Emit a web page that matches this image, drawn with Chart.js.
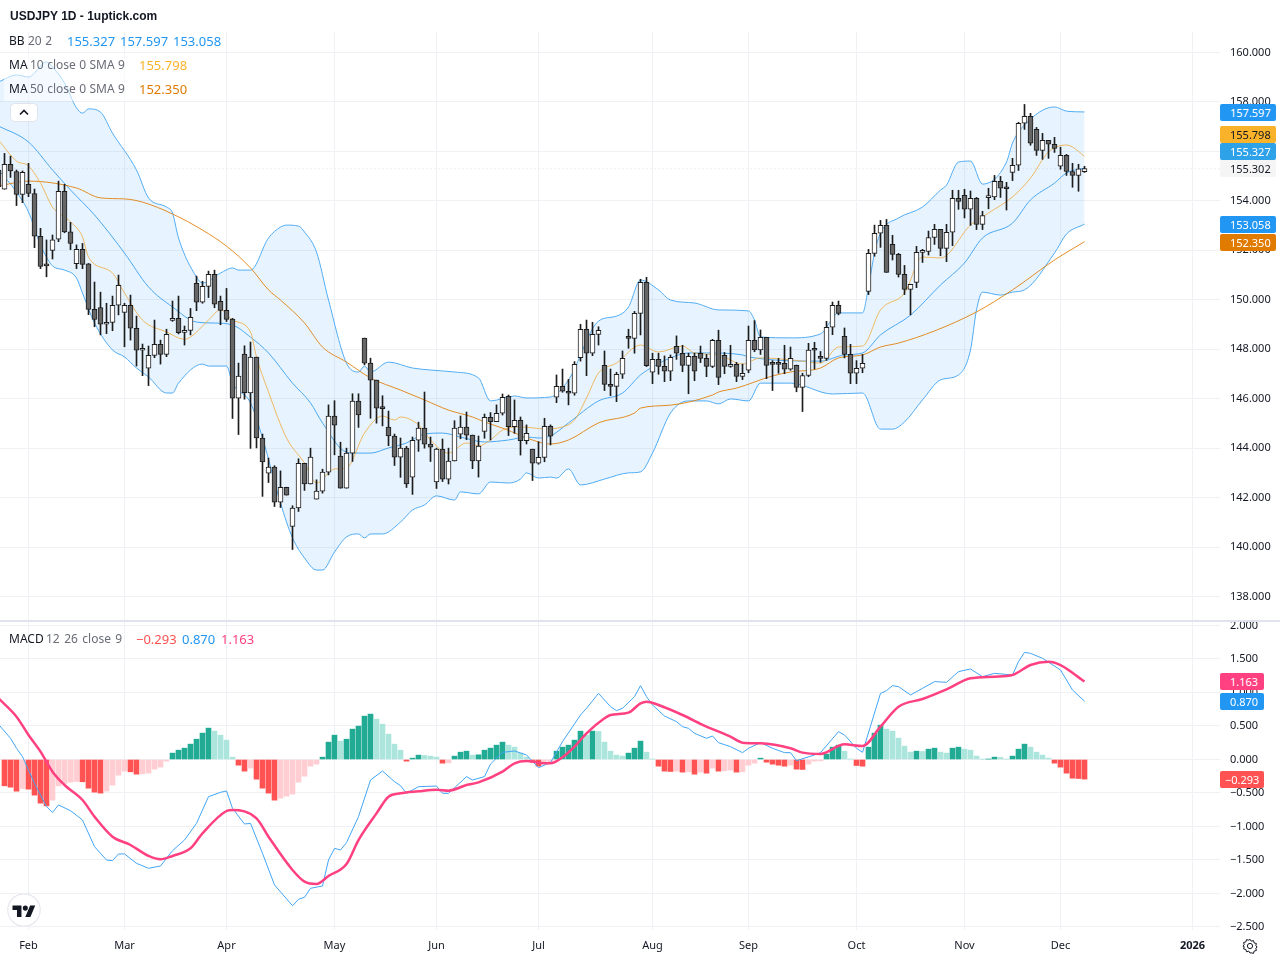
<!DOCTYPE html>
<html><head><meta charset="utf-8">
<script src="https://cdn.jsdelivr.net/npm/chart.js@4"></script>
<style>
html,body{margin:0;padding:0;background:#fff;width:1280px;height:960px;overflow:hidden}
body{position:relative;font-family:"Noto Sans",sans-serif;font-size:12px;color:#131722}
canvas{position:absolute;left:0}
.t{position:absolute;white-space:nowrap;line-height:16px}
.row{position:absolute;left:4px;width:190px;height:24px;background:rgba(255,255,255,.55)}
.tag{position:absolute;left:1220px;height:17px;line-height:17px;text-align:left;padding-left:10px;box-sizing:border-box;border-radius:2px;color:#fff;font-size:11px}
</style></head><body>
<canvas id="top" width="1280" height="622" style="top:0"></canvas>
<canvas id="bot" width="1280" height="338" style="top:622px"></canvas>
<div id="overlay"></div>
<script>
const firstIndex=-1;
const opens=[155.25,154.47,155.48,155.19,154.26,154.67,154.30,152.57,151.39,152.00,152.45,154.39,152.75,151.46,152.04,151.45,149.61,149.69,149.01,149.09,149.78,149.49,149.78,148.85,147.96,147.23,147.75,148.20,147.79,149.17,149.25,148.68,148.76,150.67,149.90,150.54,151.03,149.94,149.57,149.22,146.02,147.80,146.23,147.68,144.41,142.99,143.23,141.82,142.42,140.83,141.58,143.39,142.55,141.94,142.26,143.03,145.30,143.68,142.38,143.80,145.90,148.45,147.44,146.75,145.62,144.85,144.49,143.64,144.00,142.83,144.32,144.81,144.16,142.63,143.96,142.75,143.48,144.57,144.85,144.53,143.48,144.68,145.25,145.07,145.41,146.10,144.87,145.13,144.30,143.96,143.39,143.63,144.88,146.06,146.50,146.30,146.22,147.66,148.81,147.84,148.60,147.35,146.58,146.50,146.99,148.48,148.44,149.45,150.71,147.07,147.59,147.31,147.11,148.12,147.84,147.35,147.71,147.84,147.63,147.31,148.36,147.75,147.31,147.39,146.90,147.15,148.36,147.97,148.48,147.43,147.43,147.43,147.19,147.35,146.46,146.94,147.97,147.71,147.63,148.89,149.78,148.52,147.79,147.03,147.23,150.34,151.88,152.69,153.01,152.24,151.84,151.03,150.42,150.70,151.92,151.96,152.52,152.85,152.08,152.73,154.10,154.22,153.66,154.10,153.05,154.13,154.16,154.79,154.51,155.15,155.44,157.14,157.42,156.89,156.04,156.45,156.29,155.40,155.84,155.19,155.03,155.18];
const highs=[156.06,155.92,155.81,155.25,155.21,155.52,154.48,152.89,152.42,152.62,154.80,154.67,153.13,152.22,152.28,151.47,150.72,150.31,149.86,150.15,151.00,149.86,150.19,149.34,148.21,148.13,149.18,148.37,148.81,149.95,150.15,148.94,149.65,150.96,150.75,151.16,151.20,150.15,150.46,149.25,147.44,148.14,148.29,147.68,144.57,143.60,143.29,143.08,142.42,141.67,143.57,143.39,144.00,142.72,143.15,145.75,145.92,144.24,144.00,146.20,146.20,148.45,147.64,146.75,146.12,145.50,144.57,144.41,144.07,144.45,145.05,146.27,144.45,144.00,144.37,144.00,145.11,145.30,145.46,144.53,144.49,145.38,145.44,145.75,146.19,146.15,145.95,145.26,144.94,143.96,144.26,145.21,144.94,146.96,147.20,146.78,147.50,149.01,149.18,149.09,148.91,147.93,147.20,147.07,147.93,148.81,149.53,150.83,150.91,147.84,147.84,147.73,147.77,148.54,148.16,147.84,147.84,148.13,147.79,148.40,148.77,147.87,148.16,147.47,147.40,148.94,149.16,148.78,148.48,147.54,147.63,148.16,148.09,147.36,147.03,148.24,148.28,147.91,149.13,149.91,149.95,148.86,148.20,147.54,147.79,152.04,153.02,153.21,153.25,152.61,151.88,151.39,150.63,152.16,152.04,152.78,153.05,152.85,153.05,154.43,154.43,154.47,154.40,154.14,153.58,154.51,155.03,154.99,154.75,155.72,157.18,157.90,157.54,156.97,156.73,156.45,156.57,156.17,155.88,155.52,155.48,155.40];
const lows=[154.44,154.47,154.95,153.81,153.93,154.17,152.11,151.26,150.93,151.65,152.35,152.71,152.03,151.26,151.26,149.40,148.91,148.58,148.63,148.75,149.39,148.10,148.37,147.32,146.93,146.53,147.66,147.40,147.70,149.13,148.62,148.17,148.58,149.56,149.86,150.09,149.68,148.99,149.12,145.20,144.55,145.98,143.99,144.01,142.05,142.61,141.64,141.60,142.10,139.90,141.44,142.29,142.55,141.94,142.18,142.92,143.73,142.38,142.38,143.46,144.84,147.37,145.21,145.01,144.90,144.10,143.30,142.82,142.41,142.13,143.87,144.00,143.46,142.37,142.65,142.55,143.48,144.38,144.34,143.17,142.83,144.40,144.33,145.07,145.34,144.51,144.60,143.72,144.17,142.69,143.35,143.45,144.13,145.84,146.26,145.75,146.14,147.52,146.93,147.74,148.17,146.33,146.12,145.88,146.82,148.04,147.84,148.58,147.30,146.61,146.99,146.69,146.73,147.59,147.09,146.20,146.73,147.46,146.89,147.26,146.57,147.01,147.27,146.69,146.77,147.05,147.90,147.79,146.81,146.33,147.03,147.01,147.15,146.28,145.48,146.89,147.20,147.47,147.55,148.59,149.39,147.65,146.61,146.61,147.05,150.21,151.76,152.12,151.11,151.61,150.92,150.21,149.39,150.49,151.51,151.81,152.24,151.78,151.54,152.19,153.66,153.31,153.01,152.84,152.84,153.68,154.05,154.14,153.63,154.82,155.23,156.89,156.25,155.84,155.68,155.72,155.96,155.28,155.03,154.55,154.39,155.15];
const closes=[154.57,155.48,155.21,154.26,155.15,154.30,152.57,151.35,151.37,152.43,154.39,152.75,152.28,152.04,151.43,149.61,149.21,149.01,149.07,149.78,150.59,149.78,148.85,147.96,148.04,147.75,148.20,147.79,148.60,149.25,148.67,148.76,149.29,149.90,150.54,151.03,149.82,149.57,149.21,146.02,146.91,146.24,147.68,144.41,143.44,143.23,141.82,142.42,142.10,141.58,143.39,142.55,143.64,142.26,143.03,145.30,144.93,142.38,143.80,145.90,145.34,147.44,146.75,145.62,145.60,144.49,143.64,144.00,142.55,144.32,144.81,144.16,144.04,143.96,142.75,143.48,144.81,144.85,144.53,143.48,144.08,145.25,145.07,145.41,146.06,144.87,145.13,144.30,144.60,143.39,143.63,144.88,144.48,146.50,146.30,146.22,147.39,148.81,147.84,148.60,148.77,146.58,146.50,146.99,147.63,148.44,149.45,150.71,147.34,147.59,147.31,147.11,147.67,147.84,147.35,147.71,147.11,147.63,147.31,148.36,146.86,147.31,147.39,146.90,147.03,148.36,147.97,148.48,147.35,147.39,147.39,147.19,147.63,146.46,146.94,147.97,147.96,147.63,148.89,149.78,149.45,147.79,147.03,147.23,147.43,151.88,152.69,153.01,151.11,151.84,151.03,150.42,150.63,151.92,151.96,152.52,152.85,152.08,152.73,154.10,153.98,153.66,154.10,153.05,153.41,154.16,154.79,154.51,154.49,155.44,157.14,157.42,156.33,156.04,156.45,156.29,156.12,155.84,155.19,155.03,155.30,155.302];
const bbUpper=[[-1,158.81],[2,159.09],[4,159.01],[7,159.62],[8,159.41],[10,158.77],[12,157.76],[13,157.55],[14,157.72],[16,157.59],[18,156.74],[22,155.25],[24,154.12],[27,153.75],[28,153.51],[29,152.50],[32,150.92],[33,150.68],[36,151.08],[38,151.29],[39,151.20],[41,151.20],[44,152.50],[46,152.94],[47,153.02],[49,152.98],[50,152.74],[52,151.93],[54,149.99],[57,147.44],[59,147.08],[60,147.32],[61,147.08],[64,147.48],[68,147.24],[71,147.16],[75,147.08],[79,146.84],[81,145.91],[85,146.11],[87,146.03],[91,146.07],[94,146.76],[99,149.14],[102,149.34],[104,149.71],[106,150.80],[109,150.40],[111,149.99],[115,149.87],[119,149.59],[124,149.55],[125,149.18],[126,148.50],[131,148.46],[136,148.62],[139,149.47],[143,149.47],[144,150.52],[145,151.89],[146,152.70],[149,153.31],[153,153.75],[156,154.44],[157,154.64],[159,155.57],[161,155.61],[163,154.68],[167,155.57],[168,156.34],[170,157.07],[175,157.80],[177,157.63],[180,157.597]];
const bbBasis=[[-1,157.03],[4,156.38],[8,155.25],[11,154.44],[15,153.43],[20,151.89],[24,150.52],[28,149.71],[32,149.10],[35,149.06],[38,148.98],[41,148.49],[44,147.85],[48,146.63],[51,145.83],[53,145.02],[57,143.84],[59,143.80],[61,143.80],[64,144.01],[67,144.21],[70,144.57],[73,144.61],[76,144.45],[80,144.25],[84,144.33],[87,144.45],[89,144.41],[91,144.49],[94,145.02],[99,145.91],[103,146.23],[106,146.96],[108,147.28],[111,147.65],[114,147.85],[117,147.85],[123,147.77],[124,147.69],[136,147.52],[140,147.77],[143,147.85],[146,148.58],[151,149.38],[156,150.60],[160,151.49],[163,152.50],[168,153.10],[171,154.04],[175,154.72],[177,155.13],[180,155.327]];
const bbLower=[[-1,155.25],[2,154.36],[4,153.55],[6,152.22],[8,151.37],[10,151.20],[12,150.88],[13,150.27],[15,149.06],[18,147.97],[20,147.69],[22,147.24],[24,146.88],[27,146.23],[28,146.23],[29,146.63],[33,147.40],[34,147.32],[37,147.32],[38,146.63],[41,145.83],[43,144.41],[46,141.78],[48,140.37],[50,139.56],[52,139.07],[53,139.07],[55,139.80],[57,140.41],[59,140.53],[60,140.37],[61,140.53],[63,140.53],[66,141.01],[68,141.50],[70,141.70],[72,142.07],[75,141.90],[76,142.23],[79,142.15],[81,142.63],[84,142.59],[86,142.75],[87,143.00],[89,142.79],[91,142.83],[92,142.79],[94,143.16],[96,142.51],[100,142.75],[104,143.00],[106,143.04],[108,143.80],[111,145.42],[114,145.91],[117,145.91],[119,145.79],[121,145.99],[124,145.91],[126,146.63],[131,146.63],[138,146.19],[143,146.23],[146,144.77],[148,144.77],[150,145.06],[153,145.95],[156,146.76],[159,146.96],[161,147.97],[162,149.59],[163,150.31],[166,150.19],[168,150.31],[170,150.40],[175,151.89],[177,152.66],[180,153.058]];
const ma10=[[-1,156.46],[2,155.61],[4,155.41],[6,154.72],[8,153.75],[11,153.15],[13,152.54],[14,151.73],[18,151.08],[20,150.27],[23,149.18],[27,148.70],[30,148.41],[31,148.49],[34,149.18],[36,149.59],[38,149.18],[41,148.70],[42,147.69],[44,146.27],[47,144.41],[50,143.40],[52,142.59],[55,143.16],[57,143.20],[60,144.61],[63,145.30],[65,145.14],[66,145.26],[69,144.94],[71,144.33],[74,143.80],[77,144.21],[79,144.09],[81,144.33],[83,144.73],[86,144.86],[90,144.78],[93,144.86],[95,145.14],[97,146.03],[99,147.04],[102,147.44],[106,148.17],[109,147.89],[113,148.13],[115,147.85],[119,147.77],[123,147.40],[126,147.65],[133,147.52],[136,147.44],[139,148.09],[143,148.13],[146,149.59],[150,150.27],[153,151.73],[156,151.69],[161,153.02],[164,153.51],[168,154.16],[171,154.92],[174,155.98],[177,156.26],[178,156.18],[180,155.798]];
const ma50=[[-1,154.60],[4,154.80],[12,154.52],[16,154.12],[20,154.08],[23,153.95],[28,153.47],[33,152.82],[37,152.17],[41,151.29],[44,150.40],[46,149.99],[50,149.06],[53,148.09],[57,147.48],[61,146.84],[66,146.35],[70,145.95],[74,145.54],[78,145.26],[80,145.06],[83,144.81],[89,144.25],[91,144.17],[94,144.33],[99,145.02],[105,145.42],[106,145.62],[111,145.74],[118,146.15],[119,146.27],[122,146.43],[128,146.92],[131,147.08],[136,147.24],[139,147.65],[143,147.77],[146,148.09],[149,148.25],[155,148.74],[162,149.51],[168,150.40],[175,151.61],[180,152.35]];
const lastPrice=155.302;
const macdLine=[[-1,0.525],[1,0.316],[2,0.167],[3,0.042],[5,-0.356],[7,-0.704],[8,-0.789],[9,-0.679],[11,-0.764],[13,-0.903],[15,-1.301],[17,-1.500],[18,-1.510],[19,-1.410],[20,-1.410],[22,-1.550],[24,-1.624],[26,-1.590],[28,-1.361],[30,-1.202],[32,-0.953],[34,-0.555],[36,-0.490],[37,-0.470],[38,-0.729],[40,-0.963],[41,-0.953],[43,-1.401],[45,-1.873],[48,-2.182],[49,-2.087],[50,-2.057],[51,-1.923],[53,-1.888],[54,-1.500],[55,-1.326],[56,-1.351],[57,-1.241],[59,-0.853],[61,-0.306],[63,-0.172],[65,-0.331],[66,-0.391],[67,-0.505],[69,-0.406],[72,-0.396],[73,-0.505],[74,-0.505],[77,-0.256],[78,-0.306],[80,-0.256],[81,-0.067],[83,0.107],[85,0.127],[87,0.067],[89,-0.122],[91,-0.045],[93,0.266],[96,0.664],[97,0.764],[99,0.987],[101,0.788],[102,0.729],[103,0.764],[105,0.938],[106,1.102],[107,0.938],[108,0.813],[110,0.649],[112,0.565],[113,0.490],[114,0.465],[115,0.390],[117,0.316],[118,0.351],[119,0.251],[121,0.191],[123,0.102],[124,0.167],[126,0.251],[128,0.167],[130,0.102],[131,0.102],[132,-0.017],[135,0.067],[136,0.102],[139,0.415],[140,0.366],[142,0.167],[143,0.107],[146,0.987],[147,1.027],[148,1.102],[149,1.087],[151,0.963],[153,1.062],[155,1.162],[157,1.152],[159,1.311],[161,1.351],[163,1.236],[165,1.286],[168,1.261],[169,1.460],[170,1.599],[171,1.584],[173,1.510],[176,1.336],[178,1.037],[180,0.870]];
const macdSignal=[[-1,0.913],[2,0.639],[4,0.366],[6,0.117],[8,-0.182],[10,-0.381],[13,-0.605],[15,-0.853],[18,-1.152],[21,-1.276],[24,-1.440],[26,-1.490],[28,-1.440],[31,-1.326],[33,-1.102],[37,-0.769],[38,-0.754],[42,-0.878],[44,-1.152],[48,-1.649],[50,-1.823],[52,-1.858],[54,-1.739],[57,-1.560],[59,-1.202],[62,-0.804],[64,-0.555],[66,-0.505],[69,-0.475],[72,-0.450],[74,-0.465],[77,-0.381],[79,-0.341],[83,-0.182],[85,-0.057],[87,-0.022],[90,-0.057],[91,-0.057],[93,0.032],[95,0.191],[97,0.390],[100,0.614],[101,0.664],[104,0.699],[106,0.838],[107,0.863],[109,0.813],[113,0.664],[117,0.490],[121,0.341],[123,0.251],[126,0.241],[131,0.167],[133,0.102],[136,0.082],[140,0.226],[143,0.201],[146,0.490],[149,0.788],[153,0.903],[157,1.047],[161,1.211],[165,1.236],[168,1.261],[171,1.410],[174,1.460],[176,1.410],[180,1.163]];
const macdHist=[-0.393,-0.413,-0.473,-0.433,-0.443,-0.532,-0.652,-0.692,-0.607,-0.393,-0.358,-0.338,-0.328,-0.333,-0.428,-0.488,-0.502,-0.473,-0.383,-0.234,-0.174,-0.184,-0.219,-0.214,-0.204,-0.144,-0.114,-0.025,0.095,0.139,0.169,0.229,0.303,0.393,0.468,0.423,0.363,0.289,0.035,-0.085,-0.174,-0.129,-0.294,-0.428,-0.502,-0.607,-0.577,-0.547,-0.517,-0.338,-0.249,-0.100,-0.070,0.035,0.259,0.363,0.274,0.303,0.453,0.498,0.647,0.677,0.602,0.527,0.378,0.229,0.139,-0.025,0.020,0.065,0.060,0.050,0.035,-0.055,-0.050,0.050,0.109,0.124,0.065,0.070,0.139,0.169,0.214,0.259,0.214,0.184,0.095,0.035,-0.040,-0.100,-0.060,-0.035,0.124,0.184,0.214,0.289,0.423,0.363,0.423,0.418,0.259,0.124,0.065,0.050,0.095,0.169,0.274,0.109,0.005,-0.100,-0.174,-0.179,-0.174,-0.189,-0.184,-0.219,-0.189,-0.204,-0.129,-0.174,-0.169,-0.159,-0.189,-0.184,-0.085,-0.055,0.020,-0.040,-0.070,-0.085,-0.100,-0.085,-0.144,-0.149,-0.070,-0.025,-0.020,0.080,0.184,0.214,0.124,0.005,-0.090,-0.100,0.184,0.393,0.512,0.453,0.423,0.318,0.199,0.109,0.124,0.119,0.154,0.169,0.109,0.095,0.169,0.184,0.154,0.139,0.050,0.003,0.005,0.035,0.030,0.005,0.050,0.154,0.229,0.184,0.109,0.065,0.020,-0.055,-0.114,-0.204,-0.279,-0.284,-0.293];
const monthLabels=["Feb","Mar","Apr","May","Jun","Jul","Aug","Sep","Oct","Nov","Dec","2026"];
const monthIndex=[4,20,37,55,72,89,108,124,142,160,176,198];
const priceTicks=[138,140,142,144,146,148,150,152,154,156,158,160];
const macdTicks=[-2.5,-2,-1.5,-1,-0.5,0,0.5,1,1.5,2];
const legendBB=["155.327","157.597","153.058"];
const legendMA10="155.798", legendMA50="152.350";
const legendMACD=["\u22120.293","0.870","1.163"];

const FONT='"Noto Sans"';
const GRID='#f0f1f4';
const pts=a=>a.map(p=>({x:p[0],y:p[1]}));
const xScale=(extra)=>Object.assign({
  type:'linear',min:-0.75,max:202.583,offset:false,
  grid:{color:GRID,offset:false,drawTicks:false,lineWidth:1},border:{display:false},
  afterBuildTicks:s=>{s.ticks=monthIndex.map(v=>({value:v}));}
},extra);
const yScale=(min,max,ticks,fmt)=>({
  type:'linear',position:'right',min,max,
  grid:{color:GRID,drawTicks:false},border:{display:false},
  afterBuildTicks:s=>{s.ticks=ticks.map(v=>({value:v}));},
  afterFit:s=>{s.width=60;s.paddingTop=0;s.paddingBottom=0;},
  ticks:{padding:10,crossAlign:'near',color:'#131722',font:{family:FONT,size:11},callback:fmt,autoSkip:false}
});
const line=(label,data,color,w,extra)=>Object.assign({type:'line',label,data:pts(data),borderColor:color,borderWidth:w,pointRadius:0,fill:false,cubicInterpolationMode:'monotone',order:5},extra||{});
const candleIdx=i=>i+firstIndex;

new Chart(document.getElementById('top'),{
  type:'bar',
  data:{datasets:[
    {type:'bar',label:'Body',order:1,data:opens.map((o,i)=>({x:candleIdx(i),y:[Math.min(o,closes[i]),Math.max(o,closes[i])]})),
      barThickness:5,minBarLength:2,borderWidth:1,borderSkipped:false,borderColor:'#1c1c1c',
      backgroundColor:c=>closes[c.dataIndex]>=opens[c.dataIndex]?'#ffffff':'#666666'},
    {type:'bar',label:'Wick',order:2,data:lows.map((l,i)=>({x:candleIdx(i),y:[l,highs[i]]})),barThickness:1,backgroundColor:'#1c1c1c'},
    line('MA 10',ma10,'rgba(240,170,60,.8)',1,{order:3}),
    line('MA 50',ma50,'rgba(224,123,0,.85)',1,{order:3}),
    line('BB basis',bbBasis,'#4aa8f0',1,{order:4}),
    line('BB upper',bbUpper,'#52adf4',1,{fill:{target:6},backgroundColor:'rgba(33,150,243,.11)',order:6}),
    line('BB lower',bbLower,'#52adf4',1,{order:6}),
    line('Last',[[-1,lastPrice],[203,lastPrice]],'#dfe1e6',1,{borderDash:[1,3],order:7,cubicInterpolationMode:'default',tension:0})
  ]},
  options:{
    responsive:false,animation:false,devicePixelRatio:1,events:[],
    layout:{padding:{top:32,bottom:1,left:0,right:0}},
    datasets:{bar:{grouped:false}},
    plugins:{legend:{display:false},tooltip:{enabled:false}},
    scales:{x:xScale({ticks:{display:false},afterFit:s=>{s.height=0;s.paddingLeft=0;s.paddingRight=0;}}),
      y:yScale(137.01,160.83,priceTicks,v=>v.toFixed(3))}
  }
});
const histColor=c=>{
  const i=c.dataIndex,h=macdHist[i],p=i>0?macdHist[i-1]:0;
  if(h>=0) return h>p?'#22ab94':'#ace5dc';
  return h<p?'#ff5252':'#ffcdd2';
};
new Chart(document.getElementById('bot'),{
  type:'bar',
  data:{datasets:[
    line('Signal',macdSignal,'#ff4081',2.5,{order:1}),
    line('MACD',macdLine,'#42a5f5',1,{order:2,cubicInterpolationMode:'default',tension:0}),
    {type:'bar',label:'Hist',order:3,data:macdHist.map((h,i)=>({x:i,y:h})),barThickness:5,backgroundColor:histColor}
  ]},
  options:{
    responsive:false,animation:false,devicePixelRatio:1,events:[],
    layout:{padding:{top:0,bottom:0,left:0,right:0}},
    datasets:{bar:{grouped:false}},
    plugins:{legend:{display:false},tooltip:{enabled:false}},
    scales:{x:xScale({
        ticks:{padding:9,maxRotation:0,autoSkip:false,color:'#131722',
          font:c=>({family:FONT,size:11,weight:c.tick&&c.tick.value===198?'700':'400'}),
          callback:v=>monthLabels[monthIndex.indexOf(v)]},
        afterFit:s=>{s.height=30;s.paddingLeft=0;s.paddingRight=0;}}),
      y:yScale(-2.545,2.052,macdTicks,v=>(v<0?'\u2212':'')+Math.abs(v).toFixed(3))}
  }
});

const ov=document.getElementById('overlay');
const add=(cls,css,text)=>{const d=document.createElement('div');d.className=cls;d.style.cssText=css;if(text!=null)d.textContent=text;ov.appendChild(d);return d;};
add('', 'position:absolute;left:0;top:620px;width:1280px;height:2px;background:#e0e3eb');
add('row','top:53px');add('row','top:77px');
add('t','left:10px;top:8px;font:bold 12px "Liberation Sans",Arial,sans-serif;line-height:16px','USDJPY 1D - 1uptick.com');
const legend=(y,name,px,params,vals)=>{
  add('t',`left:9px;top:${y-7}px;color:#131722`,name);
  add('t',`left:${px}px;top:${y-7}px;color:#6a6d78;word-spacing:.3px`,params);
  vals.forEach(v=>add('t',`left:${v[1]}px;top:${y-7}px;color:${v[2]};font-size:13px`,v[0]));
};
legend(40,'BB',28,'20 2',[[legendBB[0],67,'#2196f3'],[legendBB[1],120,'#2196f3'],[legendBB[2],173,'#2196f3']]);
legend(64,'MA',30,'10 close 0 SMA 9',[[legendMA10,139,'#f9b32a']]);
legend(88,'MA',30,'50 close 0 SMA 9',[[legendMA50,139,'#e07b00']]);
add('t','left:9px;top:631px;color:#131722','MACD');
add('t','left:46px;top:631px;color:#6a6d78;word-spacing:1.3px','12 26 close 9');
add('t','left:136px;top:631px;color:#ff5252;font-size:13px',legendMACD[0]);
add('t','left:182px;top:631px;color:#2196f3;font-size:13px',legendMACD[1]);
add('t','left:221px;top:631px;color:#ff4081;font-size:13px',legendMACD[2]);
[[legendBB[1],104,'#2196f3','#fff'],[legendMA10,126,'#f9b32a','#131722'],[legendBB[0],143,'#2ea2e8','#fff'],['155.302',160,'#f5f5f5','#131722'],[legendBB[2],216,'#2196f3','#fff'],[legendMA50,234,'#e07b00','#fff']]
 .forEach(t=>add('tag',`top:${t[1]}px;width:56px;background:${t[2]};color:${t[3]}`,t[0]));
[[legendMACD[2],673,'#ff4081',10],[legendMACD[1],693,'#2196f3',10],[legendMACD[0],771,'#ff5252',5]]
 .forEach(t=>add('tag',`top:${t[1]}px;width:44px;background:${t[2]};padding-left:${t[3]}px`,t[0]));
const svg=(css,inner,vb)=>{const w=document.createElement('div');w.style.cssText='position:absolute;'+css;w.innerHTML=`<svg xmlns="http://www.w3.org/2000/svg" width="100%" height="100%" viewBox="${vb}">${inner}</svg>`;ov.appendChild(w);};
svg('left:10px;top:103px;width:28px;height:19px','<rect x=".5" y=".5" width="27" height="18" rx="4" fill="#fff" stroke="#e0e3eb"/><path d="M10 11.5l4-4 4 4" fill="none" stroke="#131722" stroke-width="1.6"/>','0 0 28 19');
svg('left:7px;top:893px;width:34px;height:34px','<circle cx="17" cy="17" r="16.2" fill="#fff" stroke="#e6e8ee" stroke-width="1.2"/><g transform="translate(5.5,10) scale(.64)"><path d="M14 22H7V11H0V4h14v18ZM28 22h-8l7.5-18h8L28 22Z" fill="#131722"/><circle cx="20" cy="8" r="4" fill="#131722"/></g>','0 0 34 34');
svg('left:1242px;top:938px;width:16px;height:16px','<circle cx="8" cy="8" r="2.6" fill="none" stroke="#131722" stroke-width="1"/><path d="M8 1.2l1.2 2 2.3-.6.6 2.3 2.3.6-.6 2.3 1.4 1.2-1.4 1.2.6 2.3-2.3.6-.6 2.3-2.3-.6L8 15l-1.2-1.8-2.3.6-.6-2.3-2.3-.6.6-2.3L.9 8l1.3-1.2-.6-2.3 2.3-.6.6-2.3 2.3.6z" fill="none" stroke="#131722" stroke-width="1"/>','0 0 16 16');
</script>
</body></html>
